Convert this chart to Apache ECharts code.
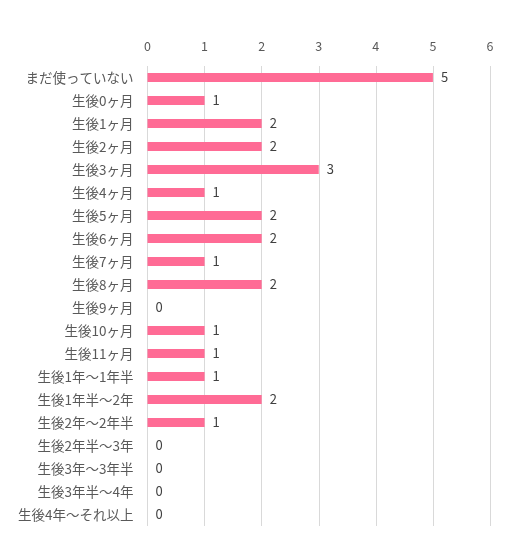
<!DOCTYPE html>
<html><head><meta charset="utf-8">
<script src="https://cdn.jsdelivr.net/npm/echarts@6/dist/echarts.min.js"></script>
<style>html,body{margin:0;padding:0;background:#fff}#c{width:528px;height:554px}</style>
</head><body><div id="c"></div>
<script>
const categories = ["まだ使っていない","生後0ヶ月","生後1ヶ月","生後2ヶ月","生後3ヶ月","生後4ヶ月","生後5ヶ月","生後6ヶ月","生後7ヶ月","生後8ヶ月","生後9ヶ月","生後10ヶ月","生後11ヶ月","生後1年～1年半","生後1年半～2年","生後2年～2年半","生後2年半～3年","生後3年～3年半","生後3年半～4年","生後4年～それ以上"];
const values = [5,1,2,2,3,1,2,2,1,2,0,1,1,1,2,1,0,0,0,0];
const chart = echarts.init(document.getElementById('c'));
const font = '"Noto Sans CJK JP", sans-serif';
chart.setOption({
  animation:false,
  grid:{left:147.5,right:38,top:66,bottom:28,containLabel:false},
  xAxis:{type:'value',position:'top',min:0,max:6,interval:1,
    axisLine:{show:false},axisTick:{show:false},
    axisLabel:{color:'#595959',fontSize:12.5,fontFamily:font,margin:13},
    splitLine:{lineStyle:{color:'#d9d9d9',width:1}}},
  yAxis:{type:'category',data:categories,inverse:true,
    axisLine:{show:false},axisTick:{show:false},
    axisLabel:{color:'#595959',fontSize:13.5,fontFamily:font,margin:14}},
  series:[{type:'bar',data:values,barWidth:9,itemStyle:{color:'#ff6b95'},
    label:{show:true,position:'right',distance:8,color:'#404040',fontSize:13,fontFamily:font}}]
});
</script></body></html>
